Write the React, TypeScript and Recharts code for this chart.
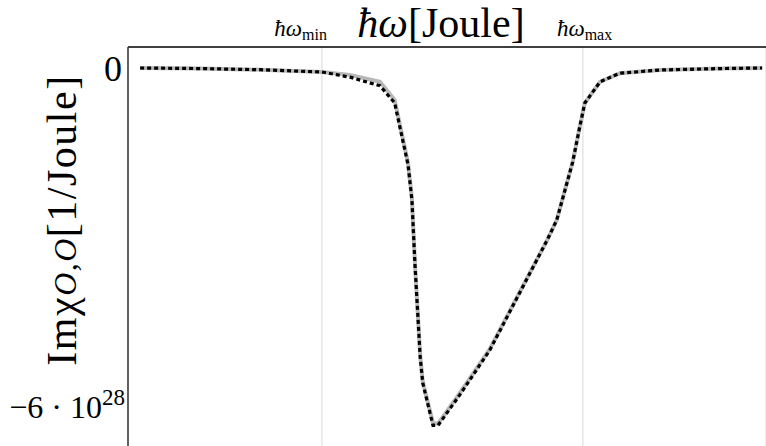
import { LineChart, Line, XAxis, YAxis, CartesianGrid } from 'recharts';

// photon energy (arbitrary units along the axis) and Im chi in 1/Joule
const omega = [
  0.19, 1.13, 2.07, 3.04, 3.48, 3.95, 4.18, 4.39, 4.45, 4.5, 4.58, 4.62, 4.78, 4.86,
  5.2, 5.67, 6.57, 6.72, 6.97, 7.08, 7.16, 7.4, 7.71, 8.34, 9.28, 9.94,
];
const imChiExact = [
  0, -0.01e28, -0.03e28, -0.07e28, -0.12e28, -0.24e28, -0.56e28, -1.66e28, -2.28e28,
  -3.46e28, -5.02e28, -5.47e28, -6.19e28, -6.2e28, -5.67e28, -4.9e28, -3.0e28,
  -2.65e28, -1.64e28, -1.03e28, -0.61e28, -0.24e28, -0.09e28, -0.035e28, -0.01e28, 0,
];
const imChiApprox = [
  0, -0.01e28, -0.03e28, -0.07e28, -0.16e28, -0.31e28, -0.61e28, -1.69e28, -2.3e28,
  -3.47e28, -5.04e28, -5.49e28, -6.23e28, -6.23e28, -5.7e28, -4.92e28, -3.0e28,
  -2.65e28, -1.64e28, -1.03e28, -0.61e28, -0.24e28, -0.09e28, -0.035e28, -0.01e28, 0,
];

const omegaMin = 3.04;
const omegaMax = 7.13;
const yTicks = [0, -6e28];

const data = omega.map((w, i) => ({ w, exact: imChiExact[i], approx: imChiApprox[i] }));

const SERIF = '"Liberation Serif", "DejaVu Serif", serif';

function XTick(props: any) {
  const { x, y, payload } = props;
  const isMin = payload.value === omegaMin;
  return (
    <text
      x={isMin ? x + 5 : x - 26}
      y={y - 3}
      textAnchor={isMin ? 'end' : 'start'}
      fontFamily={SERIF}
      fill="#000"
    >
      <tspan fontSize={23} fontStyle="italic">ħω</tspan>
      <tspan fontSize={16} dy={4}>{isMin ? 'min' : 'max'}</tspan>
    </text>
  );
}

function YTick(props: any) {
  const { x, y, payload } = props;
  if (payload.value === 0) {
    return (
      <text x={x + 2} y={y} dy="0.35em" textAnchor="end" fontFamily={SERIF} fontSize={36} fill="#000">
        0
      </text>
    );
  }
  return (
    <text x={x + 5} y={y} dy="0.35em" textAnchor="end" fontFamily={SERIF} fill="#000">
      <tspan fontSize={32}>−6 · 10</tspan>
      <tspan fontSize={23} dy={-13}>28</tspan>
    </text>
  );
}

function XTitle() {
  return (
    <text x={441} y={37} textAnchor="middle" fontFamily={SERIF} fontSize={42} fill="#000">
      <tspan fontStyle="italic">ħω</tspan>
      <tspan>[Joule]</tspan>
    </text>
  );
}

function YTitle() {
  const cx = 76;
  const cy = 220;
  return (
    <text
      x={cx}
      y={cy}
      transform={`rotate(-90, ${cx}, ${cy})`}
      textAnchor="middle"
      fontFamily={SERIF}
      fontSize={42}
      letterSpacing={1.5}
      fill="#000"
    >
      <tspan>Imχ</tspan>
      <tspan fontStyle="italic" fontSize={32}>O,O</tspan>
      <tspan>[1/Joule]</tspan>
    </text>
  );
}

export default function App() {
  return (
    <div style={{ position: 'absolute', left: 0, top: 0, background: '#fff' }}>
      <LineChart width={766} height={446} data={data} margin={{ top: 0, right: 0, bottom: 0, left: 0 }}>
        <CartesianGrid horizontal={false} stroke="#d9d9d9" strokeWidth={1} />
        <XAxis
          dataKey="w"
          type="number"
          orientation="top"
          domain={[0, 10]}
          ticks={[omegaMin, omegaMax]}
          height={47}
          axisLine={{ stroke: '#000', strokeWidth: 1.5 }}
          tickLine={false}
          tick={<XTick />}
          label={<XTitle />}
        />
        <YAxis
          type="number"
          domain={[-6.59e28, 0.366e28]}
          ticks={yTicks}
          width={128}
          axisLine={{ stroke: '#333', strokeWidth: 1.5 }}
          tickLine={false}
          tick={<YTick />}
          interval={0}
          label={<YTitle />}
        />
        <Line
          dataKey="exact"
          type="linear"
          stroke="#b8b8b8"
          strokeWidth={4}
          dot={false}
          isAnimationActive={false}
        />
        <Line
          dataKey="approx"
          type="linear"
          stroke="#000"
          strokeWidth={3.2}
          strokeDasharray="4 3"
          dot={false}
          isAnimationActive={false}
        />
      </LineChart>
    </div>
  );
}
